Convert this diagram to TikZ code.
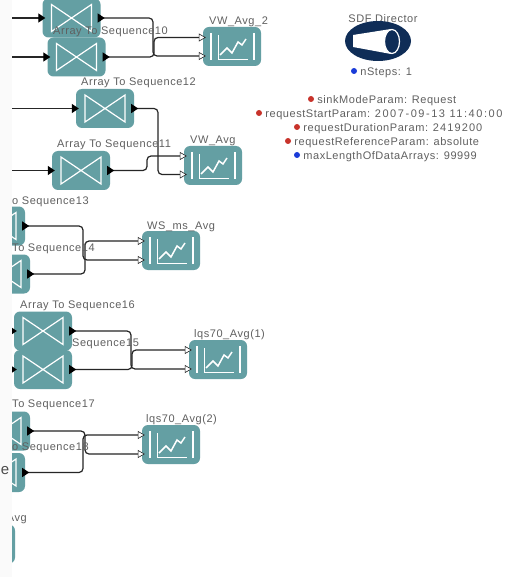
\documentclass[tikz,border=0pt]{standalone}
\usepackage{xcolor}
\usepackage{fontspec}
\setmainfont[LetterSpace=5]{Liberation Sans}
\usetikzlibrary{arrows.meta,positioning,calc,shapes.geometric}
\definecolor{Strip}{HTML}{FAFAFA}
\definecolor{Actor}{HTML}{649FA3}
\definecolor{Navy}{HTML}{0F2D57}
\definecolor{Label}{HTML}{606060}
\definecolor{ParamRed}{HTML}{C8332B}
\definecolor{ParamBlue}{HTML}{1A3BD8}
\begin{document}
\begin{tikzpicture}[x=1pt,y=-1pt,font=\fontsize{11}{13}\selectfont,text=Label,
actor/.style={fill=Actor,rounded corners=6pt,minimum width=58pt,minimum height=39pt,inner sep=0pt},
seqbox/.style={actor,path picture={\draw[white,sharp corners,line width=1.2pt] (path picture bounding box.center) ++(-20pt,13.5pt) -- ++(40pt,-27pt) -- ++(0,27pt) -- ++(-40pt,-27pt) -- cycle;}},
avgbox/.style={actor,path picture={\draw[white,sharp corners,line width=2pt] (path picture bounding box.center) ++(-21.5pt,13.5pt) -- ++(0,-27pt) ++(43pt,0) -- ++(0,27pt);\draw[white,sharp corners,line width=0.9pt] (path picture bounding box.center) ++(-14pt,11.5pt) |- ++(30pt,-24pt);\draw[white,sharp corners,line width=1.5pt] (path picture bounding box.center) ++(-12pt,-8.5pt) -- ++(7pt,7pt) -- ++(5pt,-5pt) -- ++(6pt,11pt) -- ++(4pt,-3pt) -- ++(4pt,6pt);}},
wire/.style={line width=1.2pt,black!85,rounded corners=4pt},
feedin/.style={wire,-{Triangle[length=7pt,width=9pt,black]}},
link/.style={wire,{Triangle[reversed,length=7pt,width=9pt,black]}-{Triangle[length=7pt,width=8pt,fill=white,line width=0.6pt]}},
param/.style={circle,inner sep=0pt,minimum size=6pt},
paramtext/.style={right=3pt,yshift=-1.5pt,inner sep=0pt},
actorname/.style={inner sep=0pt,anchor=west,yshift=-1.5pt}]
\useasboundingbox (0,0) rectangle (520,577);
\fill[white] (0,0) rectangle (520,577);
\fill[Strip] (0,0) rectangle (12,577);
\node[inner sep=0pt,font=\fontsize{15}{15}\selectfont,text=black!70] (cutletter) at (5,471){e};
\begin{scope}
\clip (12,0) rectangle (520,577);
% converters
\node[seqbox] (seqNine) at (71.5,18){};
\node[seqbox] (seqTen) at (76.5,57){};
\node[seqbox] (seqTwelve) at (105,108.5){};
\node[seqbox] (seqEleven) at (81,170.5){};
\node[seqbox] (seqThirteen) at (-4,226){};
\node[seqbox] (seqFourteen) at (1,274){};
\node[seqbox] (seqSixteen) at (43,331){};
\node[seqbox] (seqFifteen) at (43,369.5){};
\node[seqbox] (seqSeventeen) at (1,431){};
\node[seqbox] (seqEighteen) at (-4,472.5){};
\node[actor] (lastAvg) at (-14,544){};
% averages
\node[avgbox] (vwAvgTwo) at (232,46.5){};
\node[avgbox] (vwAvg) at (213,165.5){};
\node[avgbox] (wsAvg) at (171,250.5){};
\node[avgbox] (lqsOne) at (218,359.5){};
\node[avgbox] (lqsTwo) at (171,444.5){};
% free ends on the left
\coordinate (inNine) at (12,18);\coordinate (inTen) at (12,57);\coordinate (inTwelve) at (12,108.5);\coordinate (inEleven) at (12,170.5);\coordinate (inSixteen) at (8,331);\coordinate (inFifteen) at (8,369.5);
\draw[feedin] (inNine) -- ([xshift=3pt]seqNine.west);\draw[feedin] (inTen) -- ([xshift=3pt]seqTen.west);
\draw[feedin] (inTwelve) -- ([xshift=3pt]seqTwelve.west);\draw[feedin] (inEleven) -- ([xshift=3pt]seqEleven.west);
\draw[feedin] (inSixteen) -- ([xshift=3pt]seqSixteen.west);\draw[feedin] (inFifteen) -- ([xshift=3pt]seqFifteen.west);
% connectors
\draw[link] ([xshift=-3pt]seqNine.east) -| (153,56) -- ([xshift=3pt,yshift=-9.5pt]vwAvgTwo.west);
\draw[link] ([xshift=-3pt]seqTen.east) -- (154,57) |- ([xshift=3pt,yshift=9pt]vwAvgTwo.west);
\draw[link] ([xshift=-3pt]seqTwelve.east) -| (158,174.5) -- ([xshift=3pt,yshift=-9pt]vwAvg.west);
\draw[link] ([xshift=-3pt]seqEleven.east) -| (147,156) -- ([xshift=3pt,yshift=9.5pt]vwAvg.west);
\draw[link] ([xshift=-3pt]seqThirteen.east) -| (83,260) -- ([xshift=3pt,yshift=-9.5pt]wsAvg.west);
\draw[link] ([xshift=-3pt]seqFourteen.east) -| (85,241) -- ([xshift=3pt,yshift=9.5pt]wsAvg.west);
\draw[link] ([xshift=-3pt]seqSixteen.east) -| (131,369) -- ([xshift=3pt,yshift=-9.5pt]lqsOne.west);
\draw[link] ([xshift=-3pt]seqFifteen.east) -| (132,350) -- ([xshift=3pt,yshift=9.5pt]lqsOne.west);
\draw[link] ([xshift=-3pt]seqSeventeen.east) -| (85,454) -- ([xshift=3pt,yshift=-9.5pt]lqsTwo.west);
\draw[link] ([xshift=-3pt]seqEighteen.east) -| (83,435) -- ([xshift=3pt,yshift=9.5pt]lqsTwo.west);
% names
\node[actorname] (nameTen) at (53,30){Array To Sequence10};
\node[actorname] (nameTwelve) at (81,81){Array To Sequence12};
\node[actorname] (nameEleven) at (57,143){Array To Sequence11};
\node[actorname] (nameThirteen) at (12,200){o Sequence13};
\node[actorname] (nameFourteen) at (12,247){To Sequence14};
\node[actorname] (nameSixteen) at (20,304){Array To Sequence16};
\node[actorname] (nameFifteen) at (72,342){Sequence15};
\node[actorname] (nameSeventeen) at (12,403){To Sequence17};
\node[actorname] (nameEighteen) at (12,446){o Sequence18};
\node[inner sep=0pt,anchor=east,yshift=-1.5pt] (nameLast) at (27,517){Avg};
\end{scope}
\node[actorname] (nameVwTwo) at (209,20){VW\_Avg\_2};
\node[actorname] (nameVw) at (190,139){VW\_Avg};
\node[actorname] (nameWs) at (147,225){WS\_ms\_Avg};
\node[actorname] (nameLqsOne) at (194,333){lqs70\_Avg(1)};
\node[actorname] (nameLqsTwo) at (146,418){lqs70\_Avg(2)};
% director
\node[inner sep=0pt,yshift=-1pt] (directorName) at (383,18){SDF Director};
\node[ellipse,fill=Navy,minimum width=66pt,minimum height=40pt,inner sep=0pt] (director) at (378,41){};
\fill[white] (353,35) -- (391,29) -- (391,54) -- (353,47) -- cycle;
\draw[white,fill=Navy,line width=1.2pt] (392,41.5) ellipse (7.5pt and 12pt);
% parameters
\node[param,fill=ParamBlue] (stepsDot) at (354,71){};\node[paramtext] (stepsText) at (stepsDot.east){nSteps: 1};
\node[param,fill=ParamRed] (sinkDot) at (311,99){};\node[paramtext] (sinkText) at (sinkDot.east){sinkModeParam: Request};
\node[param,fill=ParamRed] (startDot) at (259,113){};\node[paramtext] (startText) at (startDot.east){requestStartParam: \addfontfeature{LetterSpace=14}2007-09-13 11:40:00};
\node[param,fill=ParamRed] (durationDot) at (297,127){};\node[paramtext] (durationText) at (durationDot.east){requestDurationParam: \addfontfeature{LetterSpace=10}2419200};
\node[param,fill=ParamRed] (referenceDot) at (288,141){};\node[paramtext] (referenceText) at (referenceDot.east){requestReferenceParam: absolute};
\node[param,fill=ParamBlue] (maxDot) at (297,155){};\node[paramtext] (maxText) at (maxDot.east){maxLengthOfDataArrays: 99999};
\end{tikzpicture}
\end{document}
